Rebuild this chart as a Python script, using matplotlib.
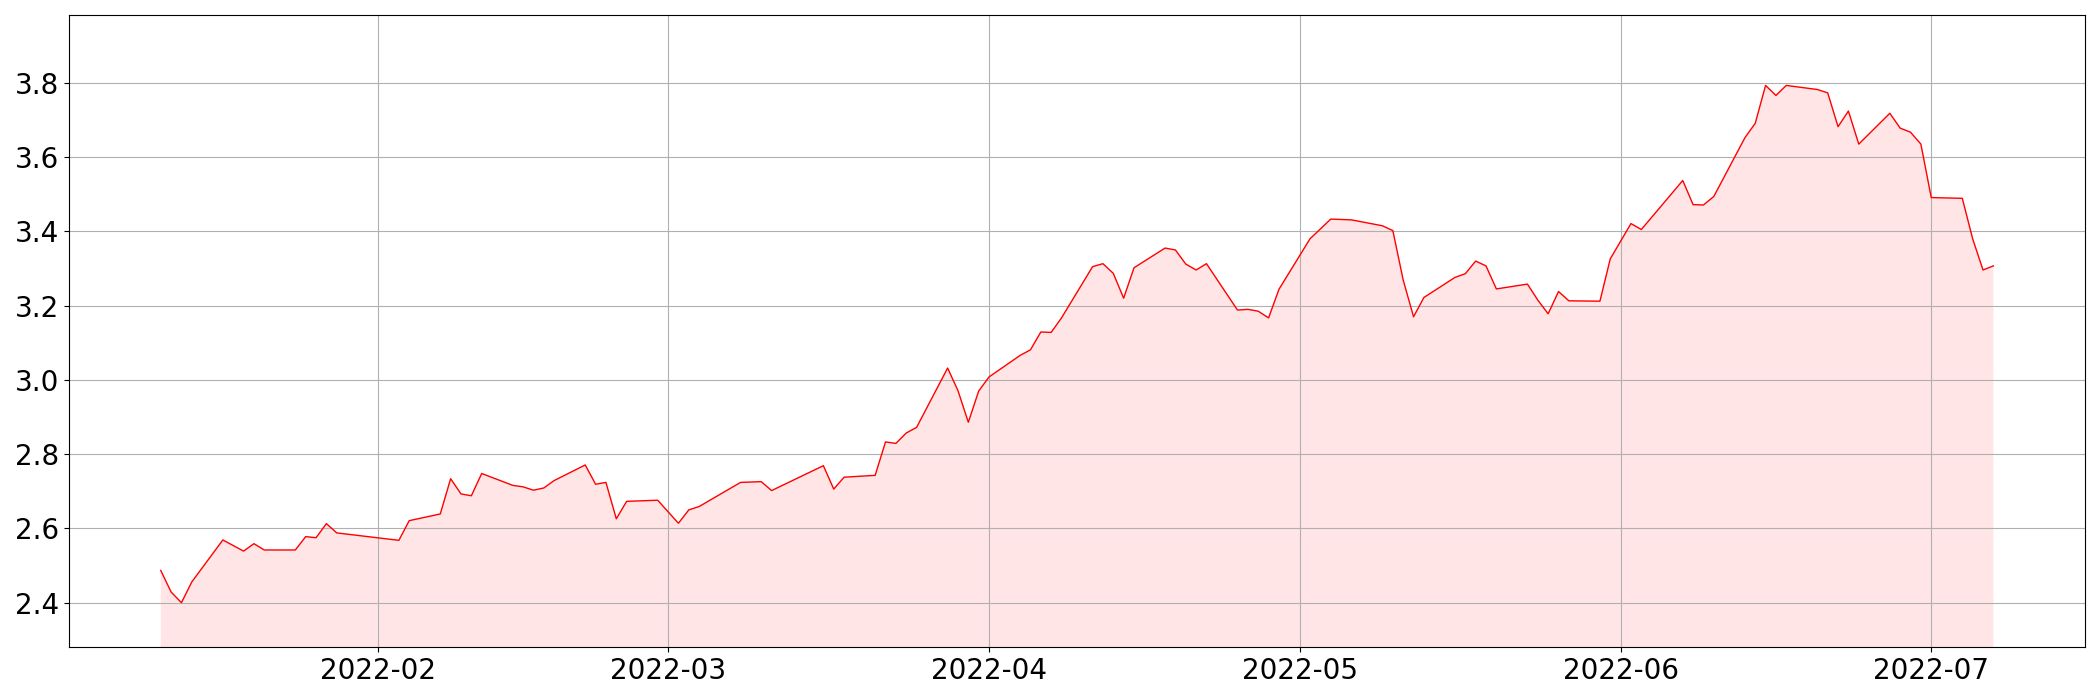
import numpy as np
import pandas as pd
import matplotlib
matplotlib.use("Agg")
import matplotlib.pyplot as plt

dates = pd.to_datetime([
    "2022-01-11", "2022-01-12", "2022-01-13", "2022-01-14", "2022-01-17",
    "2022-01-19", "2022-01-20", "2022-01-21", "2022-01-24", "2022-01-25",
    "2022-01-26", "2022-01-27", "2022-01-28", "2022-02-03", "2022-02-04",
    "2022-02-07", "2022-02-08", "2022-02-09", "2022-02-10", "2022-02-11",
    "2022-02-14", "2022-02-15", "2022-02-16", "2022-02-17", "2022-02-18",
    "2022-02-21", "2022-02-22", "2022-02-23", "2022-02-24", "2022-02-25",
    "2022-02-28", "2022-03-02", "2022-03-03", "2022-03-04", "2022-03-08",
    "2022-03-10", "2022-03-11", "2022-03-16", "2022-03-17", "2022-03-18",
    "2022-03-21", "2022-03-22", "2022-03-23", "2022-03-24", "2022-03-25",
    "2022-03-28", "2022-03-29", "2022-03-30", "2022-03-31", "2022-04-01",
    "2022-04-04", "2022-04-05", "2022-04-06", "2022-04-07", "2022-04-08",
    "2022-04-11", "2022-04-12", "2022-04-13", "2022-04-14", "2022-04-15",
    "2022-04-18", "2022-04-19", "2022-04-20", "2022-04-21", "2022-04-22",
    "2022-04-25", "2022-04-26", "2022-04-27", "2022-04-28", "2022-04-29",
    "2022-05-02", "2022-05-04", "2022-05-06", "2022-05-09", "2022-05-10",
    "2022-05-11", "2022-05-12", "2022-05-13", "2022-05-16", "2022-05-17",
    "2022-05-18", "2022-05-19", "2022-05-20", "2022-05-23", "2022-05-24",
    "2022-05-25", "2022-05-26", "2022-05-27", "2022-05-30", "2022-05-31",
    "2022-06-02", "2022-06-03", "2022-06-07", "2022-06-08", "2022-06-09",
    "2022-06-10", "2022-06-13", "2022-06-14", "2022-06-15", "2022-06-16",
    "2022-06-17", "2022-06-20", "2022-06-21", "2022-06-22", "2022-06-23",
    "2022-06-24", "2022-06-27", "2022-06-28", "2022-06-29", "2022-06-30",
    "2022-07-01", "2022-07-04", "2022-07-05", "2022-07-06", "2022-07-07",
])

values = [
    2.487, 2.429, 2.400, 2.456, 2.569,
    2.539, 2.559, 2.542, 2.542, 2.578,
    2.575, 2.613, 2.588, 2.568, 2.621,
    2.639, 2.734, 2.693, 2.688, 2.748,
    2.716, 2.712, 2.703, 2.709, 2.729,
    2.771, 2.719, 2.724, 2.626, 2.673,
    2.676, 2.614, 2.650, 2.659, 2.724,
    2.726, 2.702, 2.769, 2.706, 2.738,
    2.743, 2.833, 2.829, 2.857, 2.872,
    3.032, 2.971, 2.886, 2.970, 3.008,
    3.066, 3.081, 3.129, 3.128, 3.167,
    3.305, 3.313, 3.287, 3.220, 3.302,
    3.355, 3.350, 3.312, 3.296, 3.313,
    3.188, 3.190, 3.185, 3.167, 3.244,
    3.380, 3.433, 3.431, 3.415, 3.402,
    3.269, 3.170, 3.222, 3.276, 3.286,
    3.320, 3.307, 3.245, 3.258, 3.215,
    3.178, 3.238, 3.213, 3.212, 3.326,
    3.421, 3.405, 3.537, 3.472, 3.471,
    3.494, 3.652, 3.691, 3.793, 3.766,
    3.793, 3.782, 3.773, 3.682, 3.724,
    3.635, 3.718, 3.678, 3.667, 3.635,
    3.491, 3.489, 3.380, 3.296, 3.307,
]

vals = np.array(values)

fig, ax = plt.subplots(figsize=(21, 7), dpi=100)
ax.plot(dates, vals, color="red", linewidth=1)
ax.fill_between(dates, vals, 0, color="red", alpha=0.1, linewidth=0)
ax.set_ylim(vals.min() * 0.95, vals.max() * 1.05)
ax.grid(True)
ax.tick_params(labelsize=20)
plt.tight_layout()
plt.savefig("out.png")
